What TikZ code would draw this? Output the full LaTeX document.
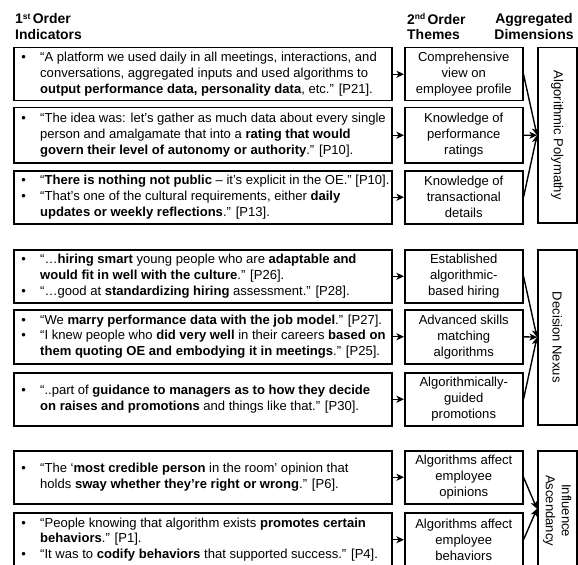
\documentclass[tikz,border=0pt]{standalone}
\usepackage{fontspec}
\setmainfont{Liberation Sans}
\usetikzlibrary{arrows.meta}
\newcommand\qlist[1]{\makebox[378bp][l]{\begin{tabular}{@{\hspace{7.7bp}}l@{\hspace{14.2bp}}l@{}}#1\end{tabular}}}
\newcommand\supx[1]{\raisebox{4.5bp}{\fontsize{8.5}{9}\selectfont #1}}
\begin{document}
\begin{tikzpicture}[x=1bp,y=-1bp,
  body/.style={font=\fontsize{13.1}{16}\selectfont},
  head/.style={font=\fontsize{14}{15.5}\selectfont\bfseries, inner sep=0, anchor=north west},
  lbox/.style={body, draw, line width=1.5bp, inner sep=0, minimum width=378bp, anchor=north west},
  mbox/.style={body, draw, line width=1.5bp, inner sep=0, minimum width=118bp, anchor=north west, align=center},
  rbox/.style={draw, line width=1.5bp, inner sep=0, minimum width=39bp, anchor=north west},
  rlab/.style={body, rotate=-90, align=center, inner sep=0},
  arr/.style={-{Stealth[length=7.5bp,width=7bp,inset=2bp]}, line width=1.4bp}]
\useasboundingbox (0,0) rectangle (578,565);

% headers
\node[head, align=left] (h1) at (15,13.5) {1\supx{st}\,Order\\Indicators};
\node[head, align=left] (h2) at (407,13.5) {2\supx{nd}\,Order\\Themes};
\node[head, align=center, anchor=north] (h3) at (534,13.5) {Aggregated\\Dimensions};

% first order boxes
\node[lbox, minimum height=53bp] (L1) at (13,47) {\qlist{%
  • & “A platform we used daily in all meetings, interactions, and\\
    & conversations, aggregated inputs and used algorithms to\\
    & \textbf{output performance data, personality data}, etc.” [P21].}};
\node[lbox, minimum height=55bp] (L2) at (13,107) {\qlist{%
  • & “The idea was: let's gather as much data about every single\\
    & person and amalgamate that into a \textbf{rating that would}\\
    & \textbf{govern their level of autonomy or authority}.” [P10].}};
\node[lbox, minimum height=53bp] (L3) at (13,170) {\qlist{%
  • & “\textbf{There is nothing not public} – it's explicit in the OE.” [P10].\\
  • & “That's one of the cultural requirements, either \textbf{daily}\\
    & \textbf{updates or weekly reflections}.” [P13].}};
\node[lbox, minimum height=53bp] (L4) at (13,249) {\qlist{%
  • & “…\textbf{hiring smart} young people who are \textbf{adaptable and}\\
    & \textbf{would fit in well with the culture}.” [P26].\\
  • & “…good at \textbf{standardizing hiring} assessment.” [P28].}};
\node[lbox, minimum height=54bp] (L5) at (13,309) {\qlist{%
  • & “We \textbf{marry performance data with the job model}.” [P27].\\
  • & “I knew people who \textbf{did very well} in their careers \textbf{based on}\\
    & \textbf{them quoting OE and embodying it in meetings}.” [P25].}};
\node[lbox, minimum height=53bp] (L6) at (13,372) {\qlist{%
  • & “..part of \textbf{guidance to managers as to how they decide}\\
    & \textbf{on raises and promotions} and things like that.” [P30].}};
\node[lbox, minimum height=53bp] (L7) at (13,450) {\qlist{%
  • & “The ‘\textbf{most credible person} in the room’ opinion that\\
    & holds \textbf{sway whether they're right or wrong}.” [P6].}};
\node[lbox, minimum height=54bp] (L8) at (13,512) {\qlist{%
  • & “People knowing that algorithm exists \textbf{promotes certain}\\
    & \textbf{behaviors}.” [P1].\\
  • & “It was to \textbf{codify behaviors} that supported success.” [P4].}};

% second order boxes
\node[mbox, minimum height=53bp] (M1) at (404,47) {Comprehensive\\view on\\employee profile};
\node[mbox, minimum height=55bp] (M2) at (404,107) {Knowledge of\\performance\\ratings};
\node[mbox, minimum height=53bp] (M3) at (404,170) {Knowledge of\\transactional\\details};
\node[mbox, minimum height=53bp] (M4) at (404,249) {Established\\algorithmic-\\based hiring};
\node[mbox, minimum height=54bp] (M5) at (404,309) {Advanced skills\\matching\\algorithms};
\node[mbox, minimum height=53bp] (M6) at (404,372) {Algorithmically-\\guided\\promotions};
\node[mbox, minimum height=53bp] (M7) at (404,450) {Algorithms affect\\employee\\opinions};
\node[mbox, minimum height=54bp] (M8) at (404,512) {Algorithms affect\\employee\\behaviors};

% aggregated dimensions
\node[rbox, minimum height=175bp] (R1) at (537,47) {};
\node[rlab] (R1t) at (R1.center) {Algorithmic Polymathy};
\node[rbox, minimum height=175bp] (R2) at (537,249) {};
\node[rlab] (R2t) at (R2.center) {Decision Nexus};
\node[rbox, minimum height=116bp] (R3) at (537,450) {};
\node[rlab] (R3t) at ([yshift=-2bp]R3.center) {Influence\\Ascendancy};

% connectors
\foreach \i in {1,...,8} \draw[arr] (L\i.east) -- (M\i.west);
\foreach \i in {1,2,3} \draw[arr] (M\i.east) -- (R1.west);
\foreach \i in {4,5,6} \draw[arr] (M\i.east) -- (R2.west);
\foreach \i in {7,8} \draw[arr] (M\i.east) -- (R3.west);
\end{tikzpicture}
\end{document}
